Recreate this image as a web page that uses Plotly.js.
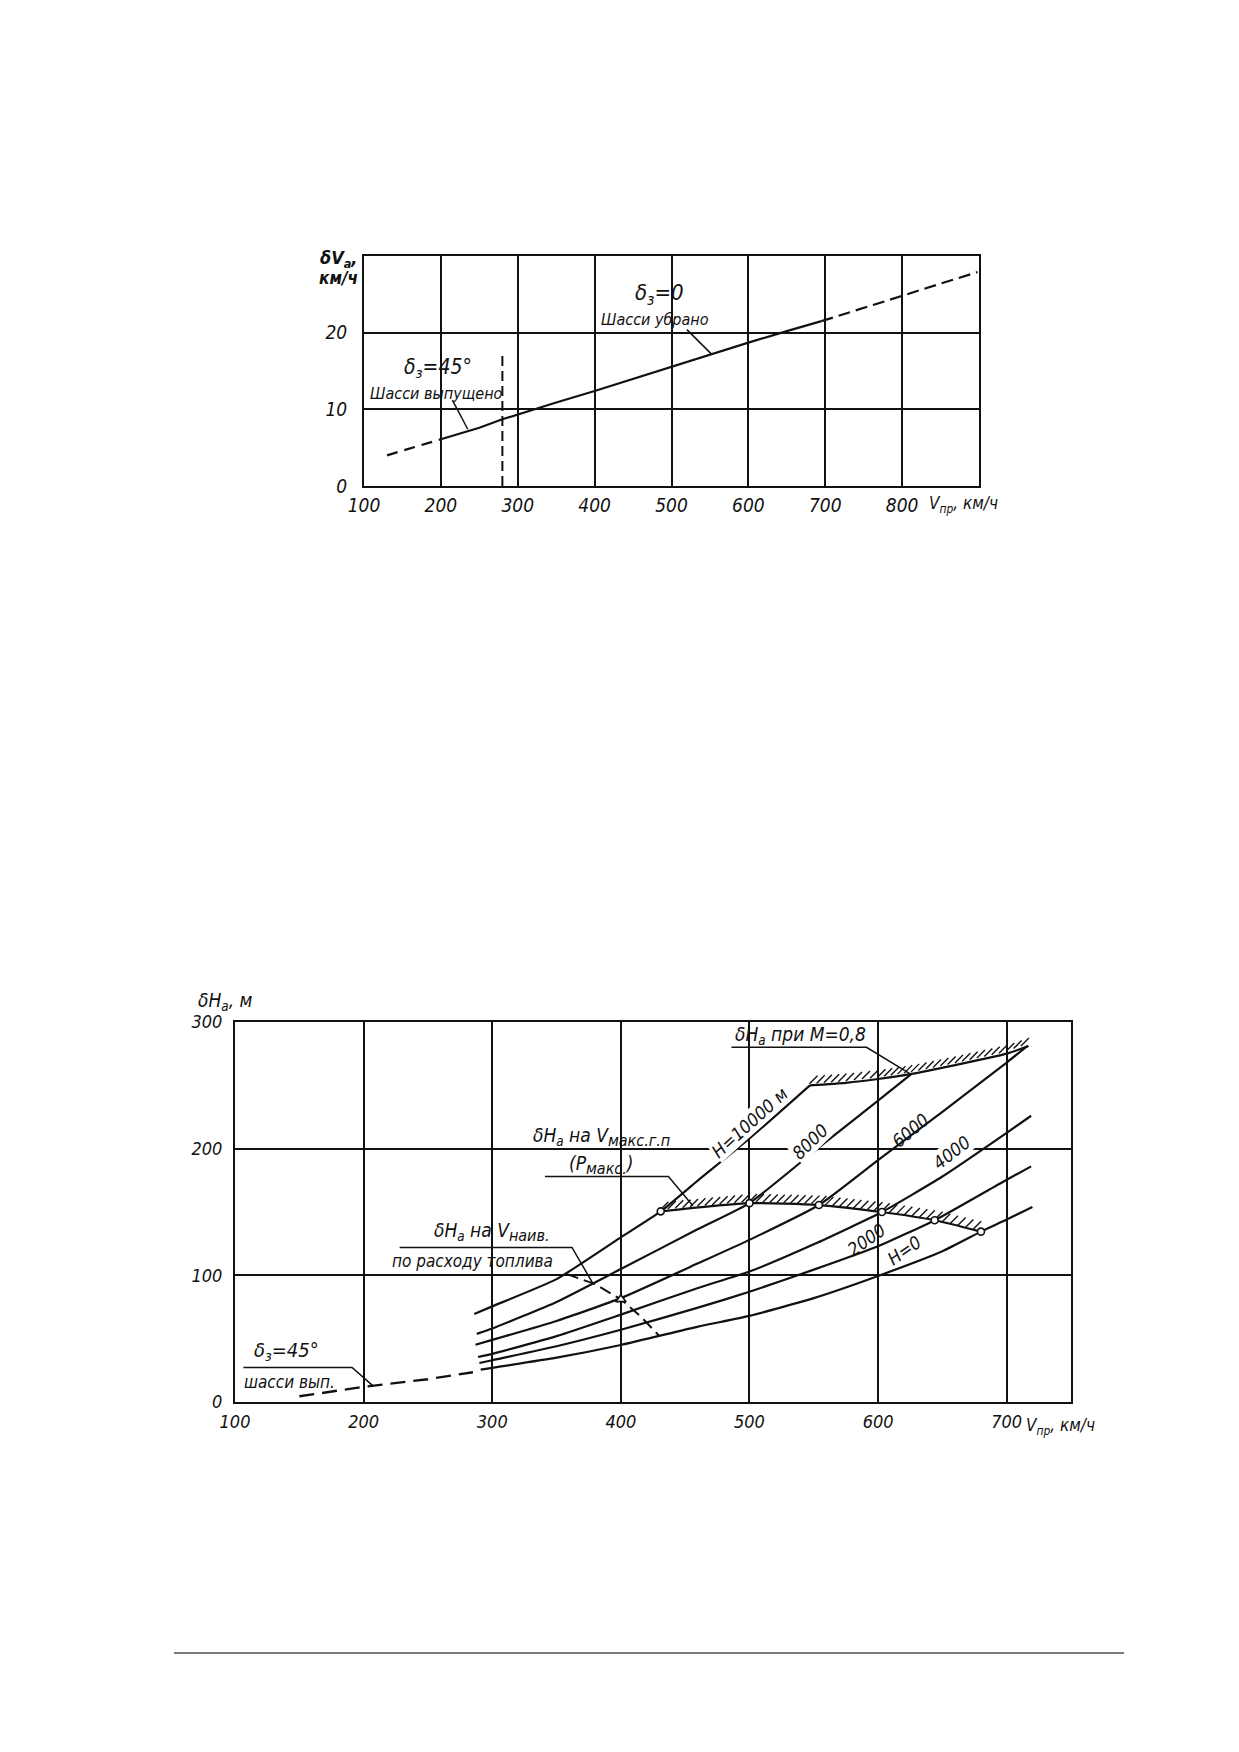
<!DOCTYPE html>
<html><head><meta charset="utf-8">
<script src="https://cdn.plot.ly/plotly-3.0.1.min.js"></script>
<style>html,body{margin:0;padding:0;background:#fff;overflow:hidden;}#chart{width:1239px;height:1752px;}</style>
</head><body><div id="chart"></div>
<script>
// ---------- Top chart: δVa vs Vпр ----------
const topXTicks = [100, 200, 300, 400, 500, 600, 700, 800];
const topYTicks = [0, 10, 20];
const topDashLowX = [130, 165, 200];
const topDashLowY = [4.0, 5.1, 6.1];
const topSolidX = [200, 250, 280, 300, 350, 400, 450, 500, 550, 600, 650, 695];
const topSolidY = [6.1, 7.6, 8.7, 9.35, 10.9, 12.4, 14.0, 15.6, 17.2, 18.7, 20.2, 21.5];
const topDashHighX = [695, 750, 800, 850, 898];
const topDashHighY = [21.5, 23.2, 24.8, 26.4, 27.9];
const gearLimitX = [280, 280];
const gearLimitY = [0, 17.3];

// ---------- Bottom chart: δHa vs Vпр ----------
const botXTicks = [100, 200, 300, 400, 500, 600, 700];
const botYTicks = [0, 100, 200, 300];
const h10000X = [286, 300, 350, 400, 431, 460, 500, 547];
const h10000Y = [69.5, 75.5, 97, 130, 150.5, 175, 208, 250];
const h8000X = [288, 300, 350, 400, 460, 500, 554, 600, 626];
const h8000Y = [53.8, 58, 79, 105, 136.5, 157, 201, 238, 259];
const h6000X = [287, 300, 350, 400, 460, 500, 554, 600, 650, 700, 716];
const h6000Y = [45.2, 49, 64, 82, 109.5, 128, 155.5, 191, 229, 268, 281];
const h4000X = [289, 300, 350, 400, 460, 500, 550, 603, 650, 700, 719];
const h4000Y = [35.5, 38, 52, 69, 90, 103, 124.5, 150, 178, 212.5, 226];
const h2000X = [290, 300, 350, 400, 460, 500, 550, 600, 644, 700, 719];
const h2000Y = [30.8, 33, 44, 57, 74.5, 87, 104.5, 123, 143.5, 175.5, 186];
const h0X = [291, 300, 350, 400, 460, 500, 550, 600, 650, 680, 700, 720];
const h0Y = [25.5, 27, 35, 45, 59.5, 68, 82, 99.5, 119, 134.5, 144, 154];
const pmaxX = [431, 500, 554, 603, 644, 680];
const pmaxY = [150.5, 157, 155.5, 150, 143.5, 134.5];
const mach08X = [547, 575, 600, 626, 660, 700, 717];
const mach08Y = [250, 252, 255, 259, 266, 275, 281];
const vNaivX = [358, 380, 400, 416, 430];
const vNaivY = [101, 93, 81, 67, 52];
const vNaivMarkX = [400];
const vNaivMarkY = [81];
const flaps45X = [150, 200, 250, 285];
const flaps45Y = [4.5, 12, 18, 23.5];

const FONT = '"Liberation Sans Narrow", "DejaVu Sans Condensed", "Roboto Condensed", "Liberation Sans", sans-serif';
const INK = '#111';
const W = 1239, H = 1752;
const px = v => v / W;
const py = v => 1 - v / H;

// hatch ticks derived from a hatched boundary curve
function hatch(xs, ys, step, off) {
  const hx = [], hy = [];
  for (let i = 0; i < xs.length - 1; i++) {
    const n = Math.max(1, Math.round((xs[i + 1] - xs[i]) / step));
    for (let k = 0; k < n; k++) {
      const t = (k + 0.5) / n;
      hx.push(xs[i] + t * (xs[i + 1] - xs[i]));
      hy.push(ys[i] + t * (ys[i + 1] - ys[i]) + off);
    }
  }
  return [hx, hy];
}

function line(x, y, xa, ya, opts) {
  return {
    type: 'scatter', mode: 'lines', x: x, y: y, xaxis: xa, yaxis: ya,
    hoverinfo: 'skip',
    line: Object.assign({color: INK, width: 2.2}, (opts && opts.line) || {})
  };
}

const pmH = hatch(pmaxX, pmaxY, 5.6, 4.2);
const m8H = hatch(mach08X, mach08Y, 5.6, 4.2);

const traces = [
  line(topDashLowX, topDashLowY, 'x', 'y', {line: {dash: '11px,7px'}}),
  line(topSolidX, topSolidY, 'x', 'y'),
  line(topDashHighX, topDashHighY, 'x', 'y', {line: {dash: '12px,6px'}}),
  line(gearLimitX, gearLimitY, 'x', 'y', {line: {dash: '10px,5px', width: 2}}),

  line(flaps45X, flaps45Y, 'x2', 'y2', {line: {dash: '15px,8px', width: 2.4}}),
  line(h10000X, h10000Y, 'x2', 'y2', {line: {shape: 'spline', smoothing: 0.5}}),
  line(h8000X, h8000Y, 'x2', 'y2', {line: {shape: 'spline', smoothing: 0.5}}),
  line(h6000X, h6000Y, 'x2', 'y2', {line: {shape: 'spline', smoothing: 0.5}}),
  line(h4000X, h4000Y, 'x2', 'y2', {line: {shape: 'spline', smoothing: 0.5}}),
  line(h2000X, h2000Y, 'x2', 'y2', {line: {shape: 'spline', smoothing: 0.5}}),
  line(h0X, h0Y, 'x2', 'y2', {line: {shape: 'spline', smoothing: 0.5}}),
  line(mach08X, mach08Y, 'x2', 'y2', {line: {shape: 'spline', smoothing: 0.5}}),
  line(vNaivX, vNaivY, 'x2', 'y2', {line: {dash: '12px,6px', width: 2}}),
  {type: 'scatter', mode: 'markers', x: pmH[0], y: pmH[1], xaxis: 'x2', yaxis: 'y2', hoverinfo: 'skip',
   marker: {symbol: 'line-ne', size: 8, line: {color: INK, width: 1.4}}},
  {type: 'scatter', mode: 'markers', x: m8H[0], y: m8H[1], xaxis: 'x2', yaxis: 'y2', hoverinfo: 'skip',
   marker: {symbol: 'line-ne', size: 8, line: {color: INK, width: 1.4}}},
  {type: 'scatter', mode: 'lines+markers', x: pmaxX, y: pmaxY, xaxis: 'x2', yaxis: 'y2', hoverinfo: 'skip',
   line: {color: INK, width: 2.2, shape: 'spline', smoothing: 0.6},
   marker: {symbol: 'circle', size: 7, color: '#fff', line: {color: INK, width: 1.6}}},
  {type: 'scatter', mode: 'markers', x: vNaivMarkX, y: vNaivMarkY, xaxis: 'x2', yaxis: 'y2', hoverinfo: 'skip',
   marker: {symbol: 'triangle-up', size: 9, color: '#fff', line: {color: INK, width: 1.6}}}
];

function axis(domain, range, tickvals, anchor, standoff, size) {
  return {
    domain: domain, range: range, anchor: anchor, tickmode: 'array', tickvals: tickvals,
    ticktext: tickvals.map(String), showline: true, mirror: true, linecolor: INK, linewidth: 2,
    showgrid: true, gridcolor: INK, gridwidth: 2, zeroline: false, ticks: '', ticklen: 0,
    ticklabelstandoff: standoff, fixedrange: true,
    tickfont: {family: FONT, size: size, style: 'italic', color: INK}
  };
}

function ann(text, x, y, xref, yref, size, extra) {
  return Object.assign({
    text: text, x: x, y: y, xref: xref, yref: yref, showarrow: false,
    xanchor: 'center', yanchor: 'middle',
    font: {family: FONT, size: size, style: 'italic', color: INK}
  }, extra || {});
}

function path(pts, xref, yref, w) {
  return {type: 'path', xref: xref, yref: yref,
    path: 'M ' + pts.map(p => p[0] + ',' + p[1]).join(' L '),
    line: {color: INK, width: w || 1.5}};
}

const bigSub = s => '<sub><span style="font-size:16px">' + s + '</span></sub>';
const onWhite = {bgcolor: '#fff', borderpad: 0};

const annotations = [
  // top chart axis labels
  ann('δV<sub>a</sub>,', px(338), py(259), 'paper', 'paper', 18, {font: {family: FONT, size: 18, style: 'italic', weight: 'bold', color: INK}}),
  ann('км/ч', px(338), py(278), 'paper', 'paper', 17, {font: {family: FONT, size: 17, style: 'italic', weight: 'bold', color: INK}}),
  ann('V<sub>пр</sub>, км/ч', px(927), py(504), 'paper', 'paper', 17, {xanchor: 'left'}),
  // top chart labels
  ann('δ<sub>з</sub>=0', 485, 25.0, 'x', 'y', 22),
  ann('Шасси убрано', 479, 21.7, 'x', 'y', 16),
  ann('δ<sub>з</sub>=45°', 196, 15.4, 'x', 'y', 21),
  ann('Шасси выпущено', 194, 12.1, 'x', 'y', 16),
  // bottom chart axis labels
  ann('δH<sub>a</sub>, м', px(226), py(1002), 'paper', 'paper', 19),
  ann('V<sub>пр</sub>, км/ч', px(1024), py(1426), 'paper', 'paper', 17, {xanchor: 'left'}),
  // bottom chart labels
  ann('δH<sub>a</sub> при M=0,8', 487, 289, 'x2', 'y2', 19, {xanchor: 'left'}),
  ann('δH<sub>a</sub> на V' + bigSub('макс.г.п'), 385, 209, 'x2', 'y2', 19),
  ann('(P' + bigSub('макс.') + ')', 385, 187, 'x2', 'y2', 19),
  ann('δH<sub>a</sub> на V' + bigSub('наив.'), 300, 134, 'x2', 'y2', 19),
  ann('по расходу топлива', 285, 111.5, 'x2', 'y2', 17),
  ann('δ<sub>з</sub>=45°', 140, 40, 'x2', 'y2', 20),
  ann('шасси вып.', 142, 16, 'x2', 'y2', 17),
  ann('H=10000 м', 500, 221, 'x2', 'y2', 18, Object.assign({textangle: -42}, onWhite)),
  ann('8000', 547, 206, 'x2', 'y2', 18, Object.assign({textangle: -44}, onWhite)),
  ann('6000', 625, 214, 'x2', 'y2', 18, {textangle: -40}),
  ann('4000', 657, 197, 'x2', 'y2', 18, Object.assign({textangle: -38}, onWhite)),
  ann('2000', 591, 128, 'x2', 'y2', 18, {textangle: -35}),
  ann('H=0', 620, 120, 'x2', 'y2', 18, {textangle: -35})
];

const shapes = [
  path([[520, 20.4], [552, 17.2]], 'x', 'y'),
  path([[215, 11.2], [235, 7.4]], 'x', 'y'),
  path([[486, 280], [591, 280], [625, 259]], 'x2', 'y2'),
  path([[341, 178], [437, 178], [456, 155]], 'x2', 'y2'),
  path([[228, 122], [362, 122], [378, 94]], 'x2', 'y2'),
  path([[106.5, 27.3], [191, 27.3], [207.5, 12.5]], 'x2', 'y2'),
  // page rule at bottom
  {type: 'line', xref: 'paper', yref: 'paper', x0: px(174), x1: px(1124), y0: py(1653), y1: py(1653),
   line: {color: '#7a7a7a', width: 2}}
];

const layout = {
  width: W, height: H, margin: {l: 0, r: 0, t: 0, b: 0},
  paper_bgcolor: '#fff', plot_bgcolor: 'rgba(0,0,0,0)', showlegend: false,
  font: {family: FONT, color: INK},
  xaxis: axis([px(364), px(979)], [100, 900], topXTicks, 'y', 1, 19),
  yaxis: axis([py(486), py(256)], [0, 30], topYTicks, 'x', 11, 19),
  xaxis2: axis([px(235), px(1071)], [100, 750], botXTicks, 'y2', 2, 18),
  yaxis2: axis([py(1402), py(1022)], [0, 300], botYTicks, 'x2', 7, 18),
  annotations: annotations,
  shapes: shapes
};

Plotly.newPlot('chart', traces, layout, {staticPlot: true, displayModeBar: false});
</script></body></html>
